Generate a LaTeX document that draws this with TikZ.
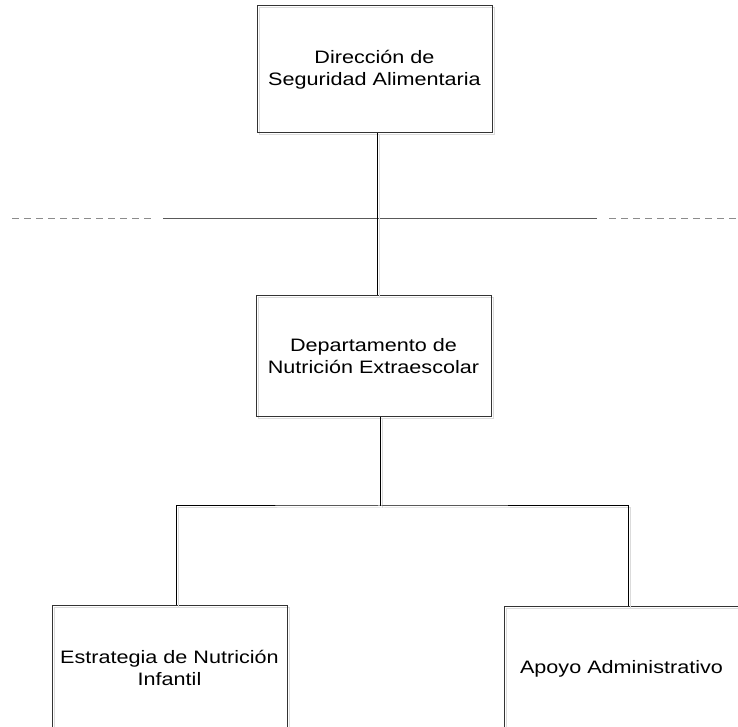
\documentclass[tikz,border=0pt]{standalone}
\usepackage{fontspec}
\setmainfont[FakeStretch=1.2]{Liberation Sans}
\begin{document}
\begin{tikzpicture}[x=1pt,y=1pt,
  soft shadow/.style={preaction={draw=black!14, line width=1pt,
      transform canvas={shift={(2pt,-2pt)}}}},
  unit box/.style={draw=black!80, line width=1pt, soft shadow,
      minimum width=235pt, align=center, inner sep=0pt,
      font=\fontsize{18}{22}\selectfont},
  link/.style={draw=black, line width=1pt, soft shadow},
  sepline/.style={draw=black!65, line width=1pt},
  dashline/.style={draw=black!45, line width=1pt, dash pattern=on 7.3pt off 4.7pt}]
\useasboundingbox (0,0) rectangle (738,727);
\clip (0,0) rectangle (738,727);

% organisational units
\node[unit box, minimum height=127pt] (dir) at (374.5,657.5)
  {Dirección de\\Seguridad Alimentaria};
\node[unit box, minimum height=121pt] (dep) at (373.5,370.5)
  {Departamento de\\Nutrición Extraescolar};
\node[unit box, minimum height=124pt] (est) at (169.5,59)
  {Estrategia de Nutrición\\Infantil};
\node[unit box, minimum height=124pt] (apo) at (621.5,58)
  {Apoyo Administrativo};

% separator between levels
\draw[dashline] (12,508) -- (152,508);
\draw[sepline] (163,508) -- (597,508);
\draw[dashline] (609,508) -- (737,508);

% reporting lines
\coordinate (bus) at (380,221);
\draw[link] ([xshift=2.5pt]dir.south) -- ([xshift=3.5pt]dep.north);
\draw[link] ([xshift=6.5pt]dep.south) -- (bus);
\draw[link] ([xshift=6.5pt]est.north) |- (bus) -| ([xshift=6.5pt]apo.north);
\end{tikzpicture}
\end{document}
